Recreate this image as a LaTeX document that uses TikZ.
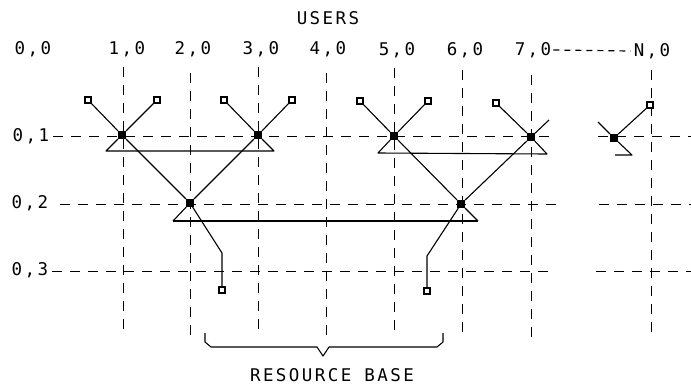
\documentclass[tikz,border=0pt]{standalone}
\usepackage{fontspec}
\newfontfamily\plotfont[LetterSpace=14]{DejaVu Sans Mono}
\begin{document}
\begin{tikzpicture}[x=1pt,y=-1pt,
  gridline/.style={line width=0.9pt, dash pattern=on 10pt off 8pt},
  wire/.style={line width=1.1pt, line join=round},
  leaf/.style={draw, line width=1.1pt, minimum size=6pt, inner sep=0pt, fill=white},
  hub/.style={draw, line width=1.2pt, fill=black, minimum size=7pt, inner sep=0pt},
  lbl/.style={font=\plotfont\fontsize{17.5}{19}\selectfont, inner sep=0pt}]
\useasboundingbox (0,0) rectangle (691,389);

% grid: user columns
\foreach \x/\a/\b in {123/67/332, 190/73/338, 258/67/334, 326/73/340,
                      394/68/337, 462/70/335, 531/75/340, 651/70/337}
  \draw[gridline] (\x,\a) -- (\x,\b);
% grid: levels
\foreach \y/\a/\b/\c in {136/53/550/598, 204/60/557/599, 271/52/548/596} {
  \draw[gridline] (\a,\y) -- (\b,\y);
  \draw[gridline] (\c,\y) -- (691,\y);
}

% labels
\node[lbl] (users) at (328,18) {USERS};
\node[lbl] (u0) at (33,49) {0,0};
\node[lbl] (u1) at (127,49) {1,0};
\node[lbl] (u2) at (193,49) {2,0};
\node[lbl] (u3) at (261,49) {3,0};
\node[lbl] (u4) at (328,49) {4,0};
\node[lbl] (u5) at (397,50) {5,0};
\node[lbl] (u6) at (465,50) {6,0};
\node[lbl] (u7) at (533,50) {7,0};
\node[lbl] (uN) at (652,51) {N,0};
\node[lbl] (v1) at (31,136) {0,1};
\node[lbl] (v2) at (30,203) {0,2};
\node[lbl] (v3) at (30,270) {0,3};
\node[lbl] (res) at (332,375) {RESOURCE BASE};
\draw[line width=1.2pt, dash pattern=on 6pt off 5pt] ([xshift=2pt]u7.east) -- ([xshift=-3pt]uN.west);

% junctions
\node[hub] (a1) at (122,135) {};
\node[hub] (a3) at (258,135) {};
\node[hub] (a5) at (394,136) {};
\node[hub] (a7) at (531,137) {};
\node[hub] (aN) at (614,138) {};
\node[hub] (b2) at (190,203) {};
\node[hub] (b6) at (461,204) {};

% user terminals
\node[leaf] (l1a) at (88,100) {};
\node[leaf] (l1b) at (157,100) {};
\node[leaf] (l3a) at (224,100) {};
\node[leaf] (l3b) at (292,100) {};
\node[leaf] (l5a) at (360,101) {};
\node[leaf] (l5b) at (428,101) {};
\node[leaf] (l7a) at (496,103) {};
\node[leaf] (lN) at (650,105) {};
% resource terminals
\node[leaf] (r2) at (222,290) {};
\node[leaf] (r6) at (427,291) {};

% bend and bar points
\coordinate (t1L) at (106,151);
\coordinate (t3R) at (274,151);
\coordinate (t5L) at (378,153);
\coordinate (t7R) at (547,154);
\coordinate (t2L) at (173,221);
\coordinate (t6R) at (478,221);
\coordinate (s7) at (549,120);
\coordinate (sN) at (598,122);
\coordinate (tNR) at (632,155);
\coordinate (tNL) at (615,155);
\coordinate (k2) at (222,253);
\coordinate (k6) at (427,256);

% first level
\draw[wire] (l1a) -- (a1) -- (b2);
\draw[wire] (l1b) -- (a1) -- (t1L) -- (t3R) -- (a3) -- (l3a);
\draw[wire] (l3b) -- (a3) -- (b2) -- (t2L);
\draw[wire] (l5a) -- (a5) -- (b6) -- (t6R);
\draw[wire] (l5b) -- (a5) -- (t5L) -- (t7R) -- (a7) -- (l7a);
\draw[wire] (s7) -- (a7) -- (b6);
\draw[wire] (sN) -- (aN) -- (tNR) -- (tNL);
\draw[wire] (aN) -- (lN);
% second level
\draw[wire] (t2L) -- (t6R);
\draw[wire] (b2) -- (k2) -- (r2);
\draw[wire] (b6) -- (k6) -- (r6);

% resource base brace
\draw[wire] (205,333) -- (205,342) -- (211,347) -- (317,347) -- (323,356)
  -- (329,347) -- (437,347) -- (443,342) -- (443,333);
\end{tikzpicture}
\end{document}
